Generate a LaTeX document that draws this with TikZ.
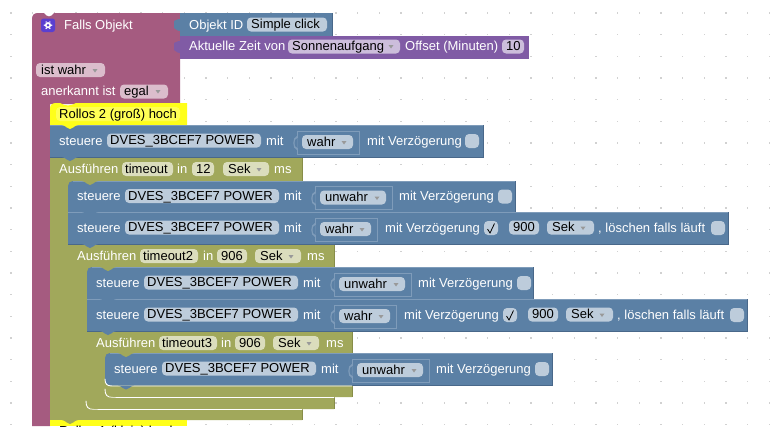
\documentclass[tikz,border=0pt]{standalone}
\usepackage{fontspec}
\setmainfont{Liberation Sans}
\definecolor{pinkb}{HTML}{A55B80}
\definecolor{pinkf}{HTML}{DBBDCC}
\definecolor{blueb}{HTML}{5B80A5}
\definecolor{bluef}{HTML}{BDCCDB}
\definecolor{bluehi}{HTML}{7F9CBA}
\definecolor{bluelo}{HTML}{49688A}
\definecolor{oliveb}{HTML}{A1A85B}
\definecolor{olivef}{HTML}{DBDDBD}
\definecolor{olivelo}{HTML}{878D48}
\definecolor{purpb}{HTML}{805BA5}
\definecolor{purpf}{HTML}{CCBDDB}
\definecolor{yell}{HTML}{FFFF1A}
\definecolor{yellf}{HTML}{FFFF55}
\definecolor{iconc}{HTML}{5A3FD0}
\tikzset{
  lbl/.style={anchor=base west,inner sep=0pt,text=white,font=\fontsize{13}{15}\selectfont},
  val/.style={anchor=base west,inner sep=0pt,text=black,font=\fontsize{13}{15}\selectfont},
  fieldbox/.style={rounded corners=4pt,draw=none},
  arrowmark/.style={fill=gray!80,draw=none},
  hilite/.style={line width=0.8pt},
  sockbox/.style={draw=bluehi,fill=blueb,line width=0.7pt},
  stackbody/.style={fill=blueb,draw=none},
}
% field: name, x0, x1, y0, text, fill, text x
\newcommand{\fieldat}[7]{%
  \path[fieldbox,fill=#6] (#2,#4) rectangle (#3,#4+14);
  \node[val] (#1) at (#7,#4+11) {#5};}
\newcommand{\dropmark}[2]{\fill[arrowmark] (#1-2.5,#2-1.5) -- (#1+2.5,#2-1.5) -- (#1,#2+2) -- cycle;}
\newcommand{\bluerowbody}[4]{%
  % x0 y0 x1 y1
  \path[stackbody] (#1,#2) rectangle (#3,#4);
  \draw[bluelo,hilite] (#3,#2) -- (#3,#4) -- (#1,#4);
  \draw[bluehi,hilite] (#1,#2+.5) -- (#3,#2+.5);}
% first row in a statement: only its top-left corner is rounded
\newcommand{\bluefirst}[4]{%
  \fill[blueb] (#1,#4) -- (#1,#2+5) .. controls (#1,#2+2) and (#1+2,#2) .. (#1+5,#2) -- (#3,#2) -- (#3,#4) -- cycle;
  \draw[bluelo,hilite] (#3,#2) -- (#3,#4);
  \draw[bluehi,hilite] (#1+5,#2+.5) -- (#3,#2+.5);}
% steuere prefix: id x0 y0
\newcommand{\steuere}[3]{%
  \node[lbl] (#1s) at (#2+9,#3+20) {steuere};
  \fieldat{#1d}{#2+57}{#2+211}{#3+8.5}{DVES\_3BCEF7 POWER}{bluef}{#2+60}
  \node[lbl] (#1m) at (#2+216,#3+20) {mit};}
% socket: id x0 y0 x1 fieldx1 text
\newcommand{\socket}[6]{%
  \path[sockbox] (#2+247,#3+6) rectangle (#4,#3+29);
  \fill[bluehi] (#2+247,#3+11) .. controls (#2+242,#3+12) and (#2+242,#3+24) .. (#2+247,#3+25) -- cycle;
  \fill[blueb] (#2+247.5,#3+13) .. controls (#2+243.5,#3+14) and (#2+243.5,#3+22) .. (#2+247.5,#3+23) -- cycle;
  \fieldat{#1w}{#2+252}{#5}{#3+10}{#6}{bluef}{#2+257}
  \dropmark{#5-9}{#3+17.5}}
\newcommand{\checkbox}[3]{\path[fieldbox,fill=bluef] (#1,#2) rectangle (#1+14,#2+14);
  \ifnum#3=1 \draw[black,line width=.8pt] (#1+3.5,#2+8) -- (#1+6,#2+12) -- (#1+10.5,#2+2.5);\fi}
\newcommand{\shortwahr}[3]{%
  \steuere{#1}{#2}{#3}
  \socket{#1}{#2}{#3}{#2+309}{#2+303}{wahr}
  \node[lbl] (#1v) at (#2+317,#3+20) {mit Verzögerung};
  \checkbox{#2+415}{#3+9}{0}}
\newcommand{\shortunwahr}[3]{%
  \steuere{#1}{#2}{#3}
  \socket{#1}{#2}{#3}{#2+324}{#2+318}{unwahr}
  \node[lbl] (#1v) at (#2+331,#3+20) {mit Verzögerung};
  \checkbox{#2+430}{#3+9}{0}}
\newcommand{\longwahr}[3]{%
  \steuere{#1}{#2}{#3}
  \socket{#1}{#2}{#3}{#2+309}{#2+303}{wahr}
  \node[lbl] (#1v) at (#2+317,#3+20) {mit Verzögerung};
  \checkbox{#2+416}{#3+9}{1}
  \fieldat{#1n}{#2+441}{#2+471}{#3+8.5}{900}{bluef}{#2+445}
  \fieldat{#1u}{#2+479}{#2+526}{#3+8.5}{Sek}{bluef}{#2+484}
  \dropmark{#2+515}{#3+16}
  \node[lbl] (#1l) at (#2+530,#3+20) {, löschen falls läuft};
  \checkbox{#2+643}{#3+9}{0}}
% olive header: id x0 y0 tmo fx1 in val vx0 vx1 sx0
\newcommand{\header}[9]{%
  \node[lbl] (#1a) at (#2+9,#3+16) {Ausführen};
  \fieldat{#1t}{#2+72}{#5}{#3+5}{#4}{olivef}{#2+75}
  \node[lbl] (#1i) at (#6,#3+16) {in};
  \fieldat{#1n}{#7}{#8}{#3+5}{#9}{olivef}{#7+4}}
\newcommand{\sekms}[4]{%
  \fieldat{#1u}{#2}{#2+46}{#3+5}{Sek}{olivef}{#2+5}
  \dropmark{#2+36}{#3+12.5}
  \node[lbl] (#1m) at (#4,#3+16) {ms};}
% olive C-block x0 y0 x1 headerbottom innerbottom y1
\newcommand{\cblock}[6]{%
  \fill[oliveb] (#1,#2) -- (#3,#2) -- (#3,#4) -- (#1+25,#4) -- (#1+25,#4+7) -- (#1+19,#4+7) -- (#1+19,#5-7) -- (#1+25,#5-7) -- (#1+25,#5) -- (#3,#5) -- (#3,#6) -- (#1,#6) -- cycle;
  \draw[olivelo,hilite] (#3,#2) -- (#3,#4);
  \draw[olivelo,hilite] (#3,#5) -- (#3,#6);}
\newcommand{\whiteinner}[3]{\draw[white,line width=.9pt,line cap=round] (#1+18,#2-8) .. controls (#1+18,#2-2) and (#1+20,#2+.5) .. (#1+26,#2+.5) -- (#3,#2+.5);}
\newcommand{\tabdown}[3]{\fill[#3] (#1-8,#2) .. controls (#1-4,#2+.5) and (#1-3,#2+4) .. (#1,#2+4) .. controls (#1+3,#2+4) and (#1+4,#2+.5) .. (#1+8,#2) -- cycle;}
\begin{document}
\begin{tikzpicture}[x=1pt,y=-1pt]
\useasboundingbox (0,0) rectangle (776,426);
\clip (0,0) rectangle (776,426);
\fill[white] (0,0) rectangle (776,426);
% grid dots
\foreach \i in {0,...,35} \foreach \j in {0,...,19}
  \fill[black!18] ({11+21.67*\i-.7},{13+21.67*\j-.7}) rectangle ++(1.4,1.4);
% hat block
\fill[pinkb] (50,426) -- (32,426) -- (32,19) .. controls (32,15) and (34,13) .. (38,13) -- (44,13)
  .. controls (46,15) and (47,16.5) .. (49,16.5) .. controls (51,16.5) and (52,15) .. (54,13) -- (180,13) -- (180,104) -- (50,104) -- cycle;
% icon
\fill[iconc,rounded corners=2.5pt] (41,18.5) rectangle (55,32);
\fill[white] (48,25.2) circle (3.1);
\foreach \a in {0,60,...,300} \fill[white] ([shift={(\a:3.7)}]48,25.2) circle (.8);
\fill[iconc] (48,25.2) circle (1.3);
\node[lbl] (falls) at (64,29) {Falls Objekt};
\fieldat{istw}{36}{105}{63}{ist wahr}{pinkf}{41}
\dropmark{95}{70.5}
\node[lbl] (aner) at (41,95) {anerkannt ist};
\fieldat{egal}{120}{168}{84.5}{egal}{pinkf}{124}
\dropmark{158}{91.5}
% value blocks
\fill[blueb] (180,13) rectangle (332,36);
\draw[bluelo,hilite] (332,13) -- (332,36);
\fill[blueb] (180,19) .. controls (176,19) and (176,21) .. (174,21) -- (174,28) .. controls (176,28) and (176,31) .. (180,31) -- cycle;
\node[lbl] (oid) at (189,29) {Objekt ID};
\fieldat{simple}{247}{327}{17.5}{Simple click}{bluef}{251}
\fill[purpb] (180,36) rectangle (529,58.5);
\fill[purpb] (180,41) .. controls (176,41) and (176,43) .. (174,43) -- (174,50) .. controls (176,50) and (176,53) .. (180,53) -- cycle;
\node[lbl] (zeit) at (189,50) {Aktuelle Zeit von};
\fieldat{sonne}{288}{400}{39.5}{Sonnenaufgang}{purpf}{292}
\dropmark{391}{46.5}
\node[lbl] (off) at (405,50) {Offset (Minuten)};
\fieldat{zehn}{502}{524}{39.5}{10}{purpf}{506}
% outer olive C blocks
\cblock{50}{157}{302}{181}{409}{420}
\cblock{68}{244}{334}{267}{397}{409}
\cblock{87}{331}{352}{353}{385}{397}
\whiteinner{68}{409}{302}
\whiteinner{87}{397}{334}
% yellow comments
\fill[yell] (50,109) .. controls (50,105) and (52,103) .. (56,103) -- (60,103) .. controls (63,104.5) and (65,105.5) .. (68,105.5) .. controls (71,105.5) and (73,104.5) .. (76,103) -- (187,103) -- (187,125) -- (50,125) -- cycle;
\path[fieldbox,fill=yellf] (56,107) rectangle (180,121);
\node[val] (roll) at (59,118) {Rollos 2 (groß) hoch};
\fill[yell] (50,420) rectangle (187,426);
\node[val] (rollb) at (59,435) {Rollos 1 (klein) hoch};
% blue rows
\bluerowbody{50}{125}{483}{157}
\shortwahr{a}{50}{125}
\bluefirst{68}{181}{515}{212.5}
\shortunwahr{b}{68}{180.5}
\bluerowbody{68}{212}{728}{244}
\longwahr{c}{68}{212}
\bluefirst{87}{267}{533}{299}
\shortunwahr{d}{87}{267}
\bluerowbody{87}{299}{747}{331}
\longwahr{e}{87}{299}
\fill[blueb] (105,380.5) -- (105,358) .. controls (105,355) and (107,353) .. (110,353) -- (552,353) -- (552,385.5) -- (110,385.5) .. controls (107,385.5) and (105,383.5) .. (105,380.5) -- cycle;
\draw[bluelo,hilite] (552,353) -- (552,385.5);
\draw[bluelo,hilite] (352,385.5) -- (552,385.5);
\draw[bluehi,hilite] (110,353.5) -- (552,353.5);
\draw[white,line width=.9pt,line cap=round] (105,379) .. controls (105,384) and (107,386) .. (112,386) -- (352,386);
\shortunwahr{f}{105}{353}
% olive headers
\header{h}{50}{157}{timeout}{173}{177}{192}{214}{12}
\sekms{h}{223}{157}{274}
\header{i}{68}{244}{timeout2}{198}{203}{217}{247}{906}
\sekms{i}{255}{244}{307}
\header{j}{87}{331}{timeout3}{217}{221}{235}{265}{906}
\sekms{j}{273}{331}{326}
% tabs and notches
\tabdown{70}{125}{yell}
\tabdown{70}{157}{blueb}
\tabdown{70}{420}{oliveb}
\tabdown{90}{181}{oliveb}
\tabdown{90}{212}{blueb}
\tabdown{90}{244}{blueb}
\tabdown{90}{409.5}{oliveb}
\tabdown{108}{267}{oliveb}
\tabdown{108}{299}{blueb}
\tabdown{108}{331}{blueb}
\tabdown{108}{397.5}{oliveb}
\tabdown{126}{353}{oliveb}
\tabdown{126}{385.5}{blueb}
\end{tikzpicture}
\end{document}
